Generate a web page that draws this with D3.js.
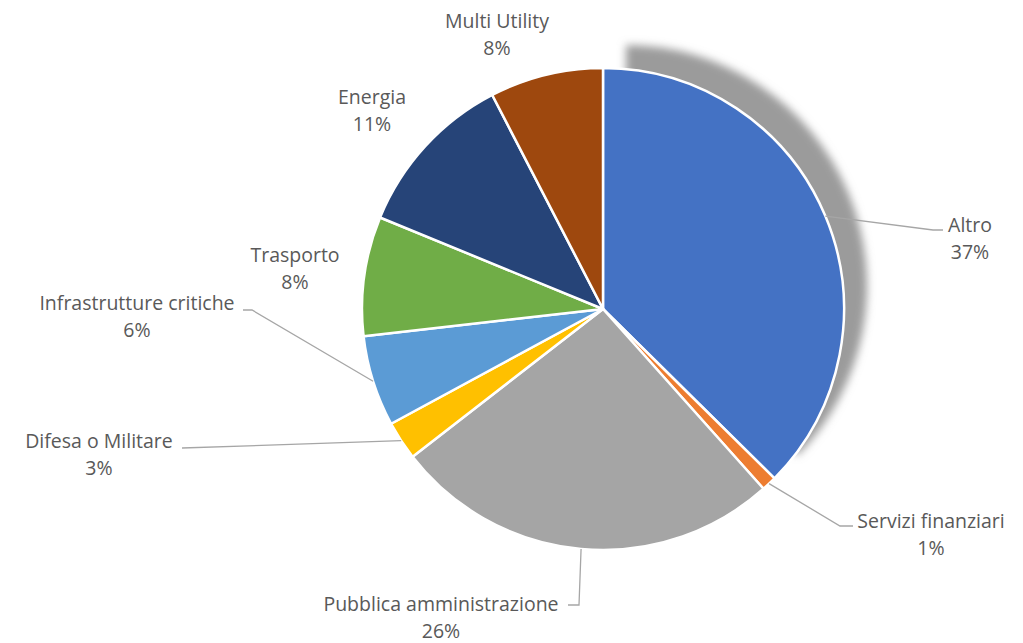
<!DOCTYPE html>
<html>
<head>
<meta charset="utf-8">
<script src="https://cdn.jsdelivr.net/npm/d3@7"></script>
<style>
  body { margin: 0; background: #fff; }
  text { font-family: "Open Sans", sans-serif; fill: #595959; }
</style>
</head>
<body>
<svg id="chart"></svg>
<script>
// Dati del grafico
const categories = ["Altro", "Servizi finanziari", "Pubblica amministrazione", "Difesa o Militare",
                    "Infrastrutture critiche", "Trasporto", "Energia", "Multi Utility"];
const values = [37.4, 1.0, 26.1, 2.6, 6.1, 8.0, 11.2, 7.6];
const colors = ["#4472C4", "#ED7D31", "#A5A5A5", "#FFC000", "#5B9BD5", "#70AD47", "#264478", "#9E480E"];

// Posizione delle etichette (centro testo, baseline prima riga) e punti del leader
const labelLayout = [
  { x: 970, y: 232, leader: [[933, 230], [943, 230]] },
  { x: 931, y: 528, leader: [[840, 526], [853, 526]] },
  { x: 441, y: 611, leader: [[579, 605], [568, 605]] },
  { x: 99,  y: 448, leader: [[182, 448]] },
  { x: 137, y: 310, leader: [[252, 310], [243, 310]] },
  { x: 295, y: 262, leader: null },
  { x: 372, y: 104, leader: null },
  { x: 497, y: 28,  leader: null }
];

const width = 1023, height = 643;
const cx = 603, cy = 309, radius = 241;

const svg = d3.select("#chart")
    .attr("width", width)
    .attr("height", height);

// filtro per l'ombra
const defs = svg.append("defs");
defs.append("filter")
    .attr("id", "blur")
    .attr("x", "-20%").attr("y", "-20%")
    .attr("width", "140%").attr("height", "140%")
  .append("feGaussianBlur")
    .attr("stdDeviation", 4.5);

const data = categories.map((c, i) => ({ name: c, value: values[i], color: colors[i] }));

const pie = d3.pie()
    .sort(null)
    .value(d => d.value);

const arcs = pie(data);

const arc = d3.arc()
    .innerRadius(0)
    .outerRadius(radius);

const g = svg.append("g")
    .attr("transform", `translate(${cx},${cy})`);

// Ombra dietro la fetta "Altro"
g.append("path")
    .attr("d", arc(arcs[0]))
    .attr("transform", "translate(23,-23)")
    .attr("fill", "#9b9b9b")
    .attr("filter", "url(#blur)");

// Fette
g.selectAll("path.slice")
    .data(arcs)
    .enter()
    .append("path")
    .attr("class", "slice")
    .attr("d", arc)
    .attr("fill", d => d.data.color)
    .attr("stroke", "#fff")
    .attr("stroke-width", 2.5)
    .attr("stroke-linejoin", "round");

// Linee guida
const line = d3.line();
arcs.forEach((d, i) => {
    const lay = labelLayout[i];
    if (!lay.leader) return;
    const mid = (d.startAngle + d.endAngle) / 2;
    const start = [cx + radius * Math.sin(mid), cy - radius * Math.cos(mid)];
    svg.append("path")
        .attr("d", line([start, ...lay.leader]))
        .attr("fill", "none")
        .attr("stroke", "#a6a6a6")
        .attr("stroke-width", 1.3);
});

// Etichette
const fmt = d3.format(".0%");
const labels = svg.selectAll("text.label")
    .data(arcs)
    .enter()
    .append("text")
    .attr("class", "label")
    .attr("text-anchor", "middle")
    .attr("font-size", "19.5px");

labels.append("tspan")
    .attr("x", (d, i) => labelLayout[i].x)
    .attr("y", (d, i) => labelLayout[i].y)
    .text(d => d.data.name);

labels.append("tspan")
    .attr("x", (d, i) => labelLayout[i].x)
    .attr("y", (d, i) => labelLayout[i].y + 27)
    .text(d => fmt(d.data.value / 100));
</script>
</body>
</html>
